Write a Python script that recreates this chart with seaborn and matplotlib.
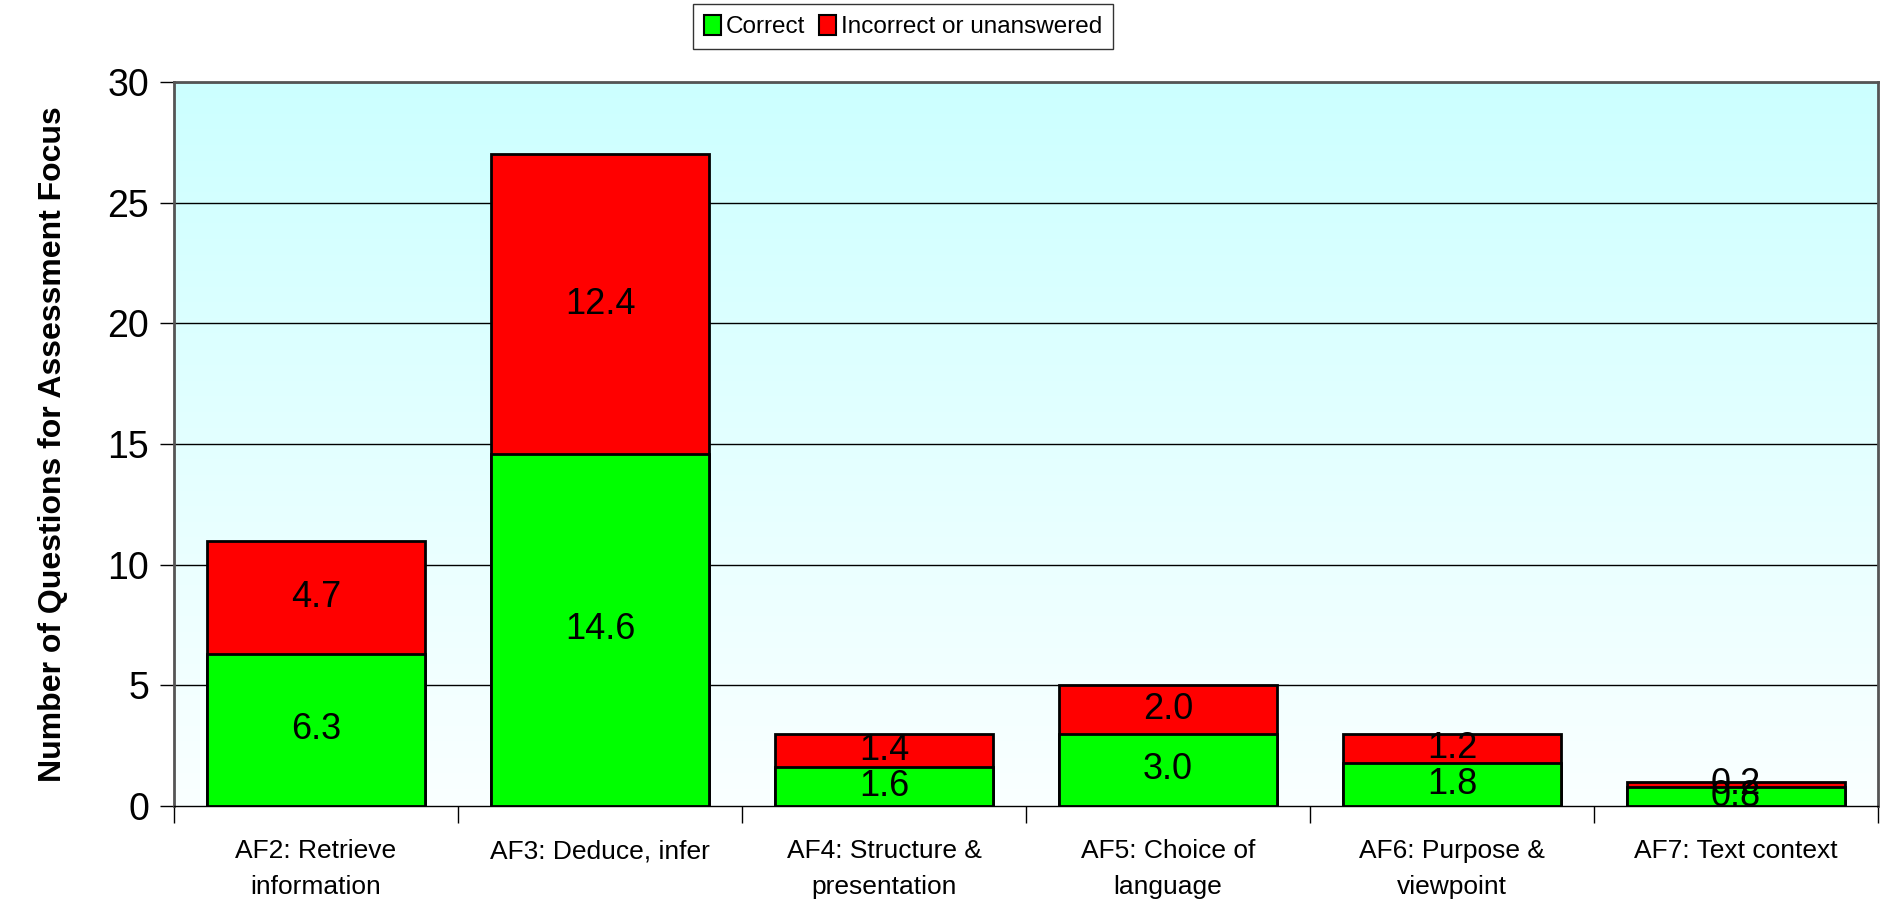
import numpy as np
import pandas as pd
import matplotlib
matplotlib.use('Agg')
import matplotlib.pyplot as plt
import seaborn as sns
from matplotlib.patches import Patch

# data
categories = ['AF2: Retrieve\ninformation', 'AF3: Deduce, infer', 'AF4: Structure &\npresentation',
              'AF5: Choice of\nlanguage', 'AF6: Purpose &\nviewpoint', 'AF7: Text context']
correct = [6.3, 14.6, 1.6, 3.0, 1.8, 0.8]
incorrect = [4.7, 12.4, 1.4, 2.0, 1.2, 0.2]

df = pd.DataFrame({'cat': categories, 'correct': correct, 'incorrect': incorrect})
df['total'] = df['correct'] + df['incorrect']

sns.set_style('white')
plt.rcParams['font.family'] = ['Liberation Sans', 'DejaVu Sans']
plt.rcParams['text.color'] = 'black'
plt.rcParams['axes.labelcolor'] = 'black'
plt.rcParams['xtick.color'] = 'black'
plt.rcParams['ytick.color'] = 'black'

fig = plt.figure(figsize=(18.81, 9.05), dpi=100)
ax = fig.add_axes([174 / 1881, 1 - 806 / 905, (1878 - 174) / 1881, (806 - 82) / 905])

# cyan -> white gradient background
grad = np.linspace(0, 1, 256).reshape(-1, 1)
cmap = matplotlib.colors.LinearSegmentedColormap.from_list('bg', ['#CCFFFF', '#FAFFFF'])
ax.imshow(grad, cmap=cmap, aspect='auto', extent=[-0.5, 5.5, 0, 30], origin='upper', zorder=0)

for y in range(5, 31, 5):
    ax.axhline(y, color='black', lw=1, zorder=1)

sns.barplot(data=df, x='cat', y='total', color='#FF0000', saturation=1, width=0.77,
            edgecolor='black', linewidth=2, ax=ax, zorder=2)
sns.barplot(data=df, x='cat', y='correct', color='#00FF00', saturation=1, width=0.77,
            edgecolor='black', linewidth=2, ax=ax, zorder=3)

for i, row in df.iterrows():
    ax.text(i, row['correct'] / 2, f"{row['correct']:.1f}", ha='center', va='center',
            fontsize=26, zorder=5)
    ax.text(i, row['correct'] + row['incorrect'] / 2, f"{row['incorrect']:.1f}", ha='center',
            va='center', fontsize=26, zorder=5)

ax.set_xlim(-0.5, 5.5)
ax.set_ylim(0, 30)
ax.set_yticks(range(0, 31, 5))
ax.tick_params(axis='y', labelsize=27, length=10, width=1, direction='out', left=True, pad=8)
ax.set_xticks(np.arange(-0.5, 6, 1))
ax.set_xticklabels([])
ax.set_xticks(range(6), minor=True)
ax.set_xticklabels(categories, minor=True, fontsize=19, linespacing=1.6)
ax.tick_params(axis='x', which='major', length=12, width=1, direction='out', bottom=True)
ax.tick_params(axis='x', which='minor', length=0, pad=24)
ax.set_xlabel('')
ax.set_ylabel('Number of Questions for Assessment Focus', fontsize=23, fontweight='bold', labelpad=28)

for s in ['top', 'right', 'left']:
    ax.spines[s].set_color('#555555')
    ax.spines[s].set_linewidth(2)
ax.spines['bottom'].set_color('black')
ax.spines['bottom'].set_linewidth(1)

handles = [Patch(facecolor='#00FF00', edgecolor='black', linewidth=1.5, label='Correct'),
           Patch(facecolor='#FF0000', edgecolor='black', linewidth=1.5, label='Incorrect or unanswered')]
leg = fig.legend(handles=handles, loc='upper center', bbox_to_anchor=(903 / 1881, 1 - 4 / 905), ncol=2,
                 fontsize=17.5, frameon=True, fancybox=False, edgecolor='black', handlelength=0.7,
                 handleheight=0.9, handletextpad=0.2, columnspacing=0.6, borderpad=0.45, borderaxespad=0)
leg.get_frame().set_linewidth(1)

fig.savefig('out.png', dpi=100)
